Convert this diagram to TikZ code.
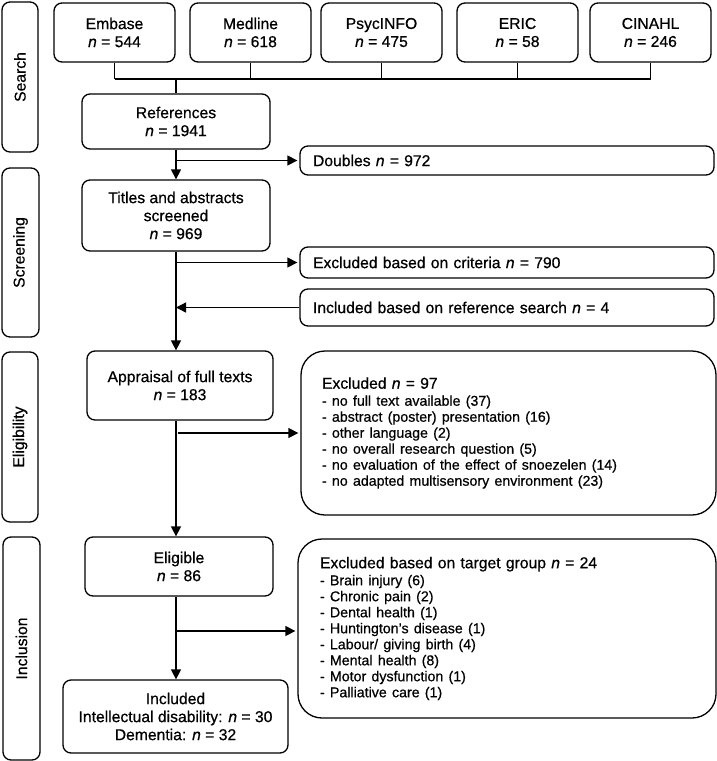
\documentclass[tikz,border=0pt]{standalone}
\usepackage{fontspec}
\setmainfont{Liberation Sans}[FakeBold=0.6]
\usetikzlibrary{arrows.meta}
\newcommand\hdrfont{\fontsize{15.7}{18}\selectfont}
\newcommand\lstfont{\fontsize{14.2}{16}\selectfont}
\begin{document}
\begin{tikzpicture}[x=1pt,y=-1pt,
  box/.style={draw,line width=1.3pt,rounded corners=8pt,inner sep=0pt,align=center,font=\hdrfont},
  sz/.style 2 args={minimum width=#1pt,minimum height=#2pt},
  wide/.style 2 args={box,align=left,inner xsep=#1pt,text width=#2pt},
  big/.style={rounded corners=24pt},
  ln/.style={line width=1.3pt},
  arr/.style={ln,-{Triangle[length=10pt,width=10pt]}},
  harr/.style={arr,shorten >=2pt}]
\useasboundingbox (0,0) rectangle (717,761);
% phase labels
\node[box,rotate=90,sz={150}{36}] (ph1) at (20,77) {Search};
\node[box,rotate=90,sz={169}{37}] (ph2) at (20.5,252.5) {Screening};
\node[box,rotate=90,sz={170}{36}] (ph3) at (20,437) {Eligibility};
\node[box,rotate=90,sz={223}{37}] (ph4) at (21.5,648.5) {Inclusion};
% databases
\node[box,sz={121}{59}] (emb) at (114.5,32.5) {Embase\\\textit{n} = 544};
\node[box,sz={121}{59}] (med) at (250.5,32.5) {Medline\\\textit{n} = 618};
\node[box,sz={121}{59}] (psy) at (381.5,32.5) {PsycINFO\\\textit{n} = 475};
\node[box,sz={121}{59}] (eric) at (517.5,32.5) {ERIC\\\textit{n} = 58};
\node[box,sz={121}{59}] (cin) at (650.5,32.5) {CINAHL\\\textit{n} = 246};
\coordinate (bus) at (0,79);
\coordinate (br24) at (0,631);
% main column
\node[box,sz={188}{55}] (ref) at (176,121.5) {References\\\textit{n} = 1941};
\node[box,sz={188}{71}] (titles) at (176,215.5) {Titles and abstracts\\screened\\\textit{n} = 969};
\node[box,sz={186}{69}] (appr) at (180,385.5) {Appraisal of full texts\\\textit{n} = 183};
\node[box,sz={188}{59}] (elig) at (179,566.5) {Eligible\\\textit{n} = 86};
\node[box,sz={225}{73}] (incl) at (175.5,716.5) {Included\\Intellectual disability: \textit{n} = 30\\Dementia: \textit{n} = 32};
% side boxes
\node[wide={13}{388},minimum height=29pt] (dbl) at (507,160.5) {Doubles \textit{n} = 972};
\node[wide={13}{388},minimum height=31pt] (crit) at (507,262.5) {Excluded based on criteria \textit{n} = 790};
\node[wide={13}{388},minimum height=37pt] (incref) at (507,307.5) {Included based on reference search \textit{n} = 4};
\node[wide={21}{373},big,minimum height=164pt] (ex97) at (508.5,433) {Excluded \textit{n} = 97\par\vspace{1pt}\lstfont
- no full text available (37)\\
- abstract (poster) presentation (16)\\
- other language (2)\\
- no overall research question (5)\\
- no evaluation of the effect of snoezelen (14)\\
- no adapted multisensory environment (23)\par};
\node[wide={22}{374},big,minimum height=179pt] (ex24) at (507,628.5) {Excluded based on target group \textit{n} = 24\par\vspace{1pt}\lstfont
- Brain injury (6)\\
- Chronic pain (2)\\
- Dental health (1)\\
- Huntington’s disease (1)\\
- Labour/ giving birth (4)\\
- Mental health (8)\\
- Motor dysfunction (1)\\
- Palliative care (1)\par};
% connectors
\foreach \n in {emb,med,psy,eric,cin} \draw[ln] (\n.south) -- (\n.south |- bus);
\draw[ln] (emb.south |- bus) -- (cin.south |- bus);
\draw[ln] (ref.north |- bus) -- (ref.north);
\draw[arr] (ref.south) -- (titles.north);
\draw[harr] (ref.south |- dbl.west) -- (dbl.west);
\draw[arr] (titles.south) -- (titles.south |- appr.north);
\draw[harr] (titles.south |- crit.west) -- (crit.west);
\draw[arr] (incref.west) -- (titles.south |- incref.west);
\draw[arr] (titles.south |- appr.south) -- (titles.south |- elig.north);
\draw[harr] ([xshift=2pt]titles.south |- ex97.west) -- (ex97.west);
\draw[arr] (titles.south |- elig.south) -- (titles.south |- incl.north);
\draw[harr] (titles.south |- br24) -- (ex24.west |- br24);
\end{tikzpicture}
\end{document}
